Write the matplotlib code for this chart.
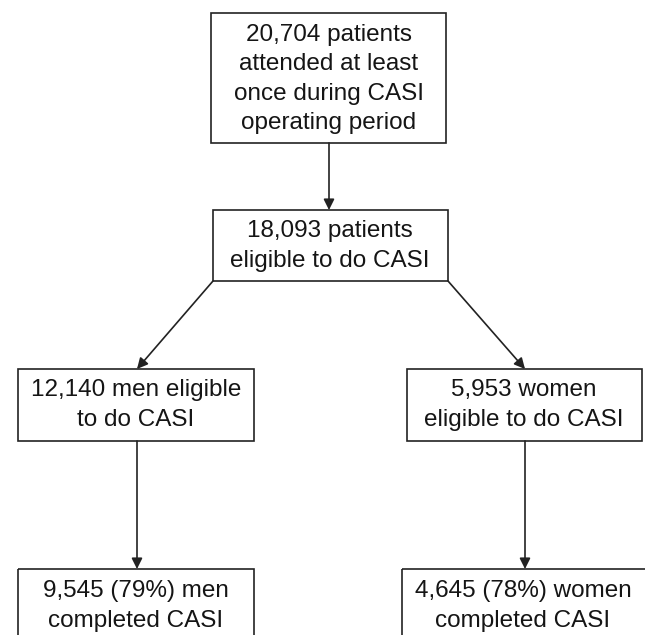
import matplotlib
matplotlib.use("Agg")
import matplotlib.pyplot as plt
from matplotlib.patches import Rectangle

# ---- data (texts of the flow chart) ----
total_text = "20,704 patients\nattended at least\nonce during CASI\noperating period"
eligible_text = "18,093 patients\neligible to do CASI"
men_eligible_text = "12,140 men eligible\nto do CASI"
women_eligible_text = "5,953 women\neligible to do CASI"
men_completed_text = "9,545 (79%) men\ncompleted CASI"
women_completed_text = "4,645 (78%) women\ncompleted CASI"

# ---- layout (pixel coordinates, y downward) ----
W, H = 645, 635
fig = plt.figure(figsize=(W / 100, H / 100), dpi=100)
ax = fig.add_axes([0, 0, 1, 1])
ax.set_xlim(0, W)
ax.set_ylim(H, 0)
ax.axis("off")

LC = "#222222"
LW = 1.2
FS = 17.5
FONT = "Liberation Sans"

boxes = [
    (211, 13, 446, 143, total_text, 329, 79),
    (213, 210, 448, 281, eligible_text, 330, 246),
    (18, 369, 254, 441, men_eligible_text, 136, 405),
    (407, 369, 642, 441, women_eligible_text, 524, 405),
    (18, 569, 254, 680, men_completed_text, 136, 606),
    (402, 569, 660, 680, women_completed_text, 523, 606),
]

for x0, y0, x1, y1, txt, tx, ty in boxes:
    ax.add_patch(Rectangle((x0, y0), x1 - x0, y1 - y0, fill=False,
                           edgecolor=LC, linewidth=LW, clip_on=True))
    ax.text(tx, ty, txt, ha="center", va="center", fontsize=FS, family=FONT,
            color="#151515", linespacing=1.42)

def arrow(x0, y0, x1, y1):
    ax.annotate("", xy=(x1, y1), xytext=(x0, y0),
                arrowprops=dict(arrowstyle="-|>", color=LC, lw=LW,
                                mutation_scale=16, shrinkA=0, shrinkB=0))

arrow(329, 143, 329, 210)
arrow(213, 281, 137, 369)
arrow(448, 281, 525, 369)
arrow(137, 441, 137, 569)
arrow(525, 441, 525, 569)

fig.savefig("out.png", dpi=100)
